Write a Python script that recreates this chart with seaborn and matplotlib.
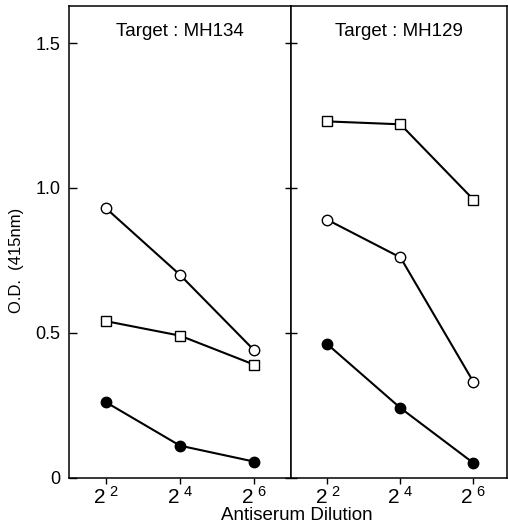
import matplotlib
matplotlib.use("Agg")
import matplotlib.pyplot as plt
import seaborn as sns
import numpy as np
import pandas as pd

# antiserum dilutions (x categories)
dilutions = [r"$\mathregular{2^{\ 2}}$", r"$\mathregular{2^{\ 4}}$", r"$\mathregular{2^{\ 6}}$"]

# Target: MH134
mh134_open_circle = [0.93, 0.70, 0.44]
mh134_open_square = [0.54, 0.49, 0.39]
mh134_filled_circle = [0.26, 0.11, 0.055]

# Target: MH129
mh129_open_square = [1.23, 1.22, 0.96]
mh129_open_circle = [0.89, 0.76, 0.33]
mh129_filled_circle = [0.46, 0.24, 0.05]

panel_titles = ["Target : MH134", "Target : MH129"]
ytick_vals = [0, 0.5, 1.0, 1.5]
ytick_labels = ["0", "0.5", "1.0", "1.5"]

sns.set_theme(style="white", rc={"text.color": "black", "xtick.color": "black",
                                 "ytick.color": "black", "axes.labelcolor": "black",
                                 "axes.edgecolor": "black"})
plt.rcParams["font.family"] = ["Liberation Sans", "DejaVu Sans"]

fig = plt.figure(figsize=(5.08, 5.27), dpi=100)
W, H = 508, 527
bottom = (H - 477.5) / H
top = (H - 6) / H
ax1 = fig.add_axes([69 / W, bottom, (291 - 69) / W, top - bottom])
ax2 = fig.add_axes([291 / W, bottom, (507 - 291) / W, top - bottom])

x = np.arange(len(dilutions))
styles = {
    "open_circle": dict(marker="o", markersize=7.5, markerfacecolor="white"),
    "open_square": dict(marker="s", markersize=6.8, markerfacecolor="white"),
    "filled_circle": dict(marker="o", markersize=7.5, markerfacecolor="black"),
}
panels = [
    (ax1, {"open_circle": mh134_open_circle, "open_square": mh134_open_square,
           "filled_circle": mh134_filled_circle}),
    (ax2, {"open_square": mh129_open_square, "open_circle": mh129_open_circle,
           "filled_circle": mh129_filled_circle}),
]

for i, (ax, series) in enumerate(panels):
    for name, vals in series.items():
        df = pd.DataFrame({"x": x, "od": vals})
        sns.lineplot(data=df, x="x", y="od", ax=ax, color="black", linewidth=1.5,
                     markeredgecolor="black", markeredgewidth=1.0, **styles[name])
    ax.set_ylim(0, (477.5 - 6) / 289.5)
    ax.set_xticks(x)
    ax.set_xticklabels(dilutions, fontsize=15)
    ax.set_xlabel("")
    ax.set_ylabel("")
    ax.set_yticks(ytick_vals)
    for sp in ax.spines.values():
        sp.set_linewidth(1.1)
        sp.set_color("black")
    ax.tick_params(axis="x", direction="out", length=4, width=1, pad=2, bottom=True)
    ax.text(0.5, 0.946, panel_titles[i], transform=ax.transAxes, ha="center",
            va="center", fontsize=13.5)

ax1.set_xlim(-0.5, 2.5)
ax2.set_xlim(-0.5, 2.46)
ax1.set_yticklabels(ytick_labels, fontsize=13)
ax1.tick_params(axis="y", direction="in", length=6, width=1, pad=6, left=True)
ax2.set_yticklabels([])
ax2.tick_params(axis="y", direction="inout", length=9, width=1, left=True)

fig.text(297 / W, 11 / H, "Antiserum Dilution", ha="center", va="center", fontsize=13.5)
fig.text(17 / W, 267 / H, "O.D.  (415nm)", ha="center", va="center", rotation=90,
         fontsize=12)

fig.savefig("out.png", dpi=100)
